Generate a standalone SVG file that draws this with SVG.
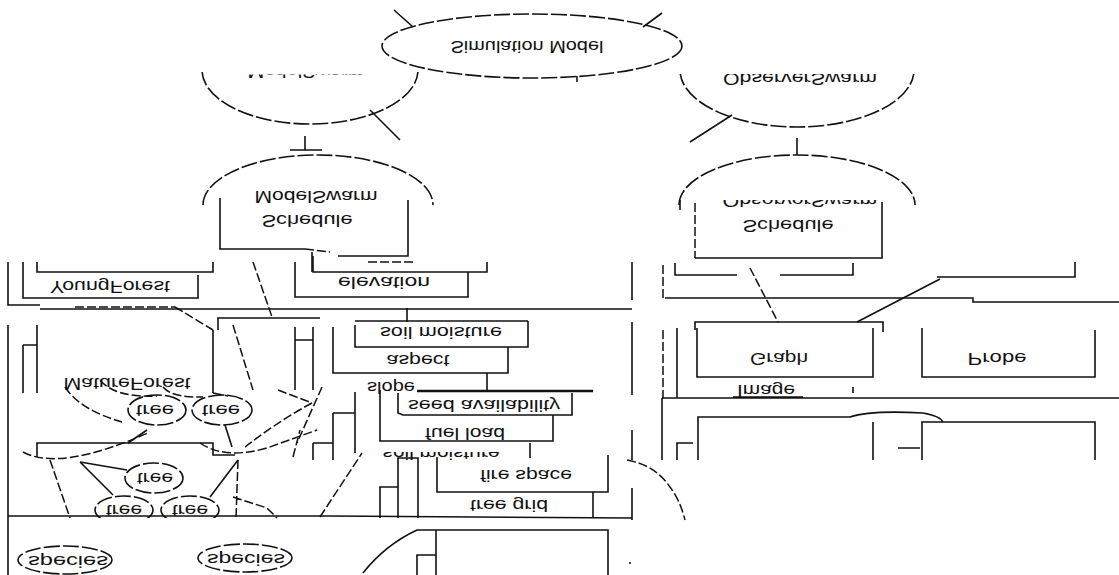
<svg xmlns="http://www.w3.org/2000/svg" width="1119" height="575" viewBox="0 0 1119 575">
<style>
.ln{fill:none;stroke:#111;stroke-width:1.6}
.ds{fill:none;stroke:#111;stroke-width:1.5;stroke-dasharray:9 3}
.el{fill:none;stroke:#111;stroke-width:1.6;stroke-dasharray:16 3}
.lbl{font-family:"Liberation Sans",Arial,sans-serif;font-size:17px;fill:#111;text-anchor:middle;dominant-baseline:central}
</style>
<defs>
<clipPath id="cMS"><rect x="0" y="72" width="1119" height="503"/></clipPath>
<clipPath id="cMSt"><rect x="0" y="74.5" width="1119" height="500"/></clipPath>
<clipPath id="cOS"><rect x="0" y="74" width="1119" height="501"/></clipPath>
<clipPath id="cOSt"><rect x="0" y="75" width="1119" height="500"/></clipPath>
<clipPath id="cSch"><rect x="0" y="140" width="1119" height="65"/></clipPath>
<clipPath id="cOSS"><rect x="0" y="200" width="1119" height="375"/></clipPath>
<clipPath id="cLow"><rect x="0" y="452" width="1119" height="123"/></clipPath>
<clipPath id="cTree"><rect x="0" y="440" width="1119" height="78"/></clipPath>
</defs>
<rect width="1119" height="575" fill="#fff"/>

<g id="connectors">
<path class="ln" d="M394,10 L413,27 M662,13 L643,27 M370,110 L400,140 M305,136 L305,150 M290,150 L322,150 M732,115 L690,142 M797,138 L797,155"/>
<path class="ln" d="M577,76 L577,82"/>
<path class="ln" d="M220,198 L220,249 L305,249 M338,256 L408,256 L408,200 M312,252 L312,272"/>
<path class="ds" d="M305,249 L330,252"/>
<path class="ds" d="M695,203 L695,258"/>
<path class="ln" d="M695,258 L882,258 L882,202 M680,200 L680,210"/>
<path class="ln" d="M675,263 L675,275 L737,275 M780,275 L853,275 L853,263"/>
<path class="ds" d="M663,265 L663,298 M750,268 L778,322"/>
<path class="ln" d="M857,322 L940,279 M937,277 L1075,277 L1075,262"/>
<path class="ln" d="M665,298 L973,298 L973,302 L1119,302"/>
<path class="ln" d="M695,330 L695,322 L883,322 L883,332"/>
<path class="ds" d="M663,330 L663,398"/>
<path class="ln" d="M677,328 L677,398 M662,398 L1119,398 M662,398 L662,460 M733,397 L803,397"/>
<path class="ln" d="M853,387 L853,393"/>
<path class="ln" d="M698,460 L698,417 L850,417 Q870,410 923,413 Q940,416 943,422 M873,422 L873,460 M922,460 L922,422 L1095,422 L1095,460 M677,460 L677,443 L693,443 M898,448 L920,448"/>
<path class="ln" d="M8,262 L8,305 L40,305 M23,262 L23,298 L198,298 L198,275 M37,262 L37,272 L213,272 L213,262"/>
<path class="ds" d="M75,307 L175,307"/>
<path class="ln" d="M40,309 L632,309 M632,262 L632,300"/>
<path class="ds" d="M175,307 L213,330 M253,262 L272,317 M233,325 L253,390 M368,262 L415,262"/>
<path class="ln" d="M320,318 L218,318 L218,330 M213,330 L213,393"/>
<path class="ln" d="M295,262 L295,297 L468,297 L468,272 M313,256 L313,272 L487,272 L487,262"/>
<path class="ln" d="M8,325 L8,575 M37,325 L37,393 M23,345 L23,393 M23,345 L37,345"/>
<path class="ln" d="M295,327 L295,390 M313,327 L313,390 M295,340 L313,340"/>
<path class="ln" d="M407,308 L407,322 M487,373 L487,392"/>
<path class="ln" d="M417,391 L593,391" style="stroke-width:2.6"/>
<path class="ln" d="M355,392 L355,453 M333,413 L355,413 M333,413 L333,460 M313,443 L333,443 M313,443 L313,460"/>
<path class="ln" d="M632,322 L632,395"/>
<path class="ds" d="M65,387 Q80,410 122,422 M100,380 Q115,398 157,396 M163,387 Q172,398 203,397 M213,393 L228,396"/>
<path class="ln" d="M147,430 L128,443 M225,425 L232,447"/>
<path class="ds" d="M278,390 L312,403 M322,387 L297,443 M312,403 Q280,420 245,447"/>
<path class="ln" d="M37,457 L37,443 L213,443 L213,455 L235,455"/>
<path class="ds" d="M23,452 Q60,472 150,432 M200,443 Q225,460 267,448 L317,430 M50,460 L70,518 M238,460 L236,518 M233,497 L267,508 L277,518 M293,457 L300,430 M320,517 L362,453"/>
<path class="ln" d="M80,462 L113,495 M80,462 L127,470 M238,460 L210,497"/>
<path class="ln" d="M8,516 L330,516 L632,518"/>
<path class="ln" d="M380,518 L380,487 L398,487 M398,518 L398,458 L418,458 L418,518"/>
<path class="ln" d="M530,443 L530,458"/>
<path class="ln" d="M632,430 L632,460 M632,488 L632,520"/>
<path class="ds" d="M627,460 Q655,465 670,487 Q680,500 685,520"/>
<path class="ln" d="M363,573 Q385,545 417,530 L608,530 L608,575 M436,530 L436,575 M417,575 L417,555 L436,555"/>
<circle cx="630" cy="563" r="1" fill="#111"/>
</g>

<g id="node-simulation-model">
<ellipse class="el" cx="532" cy="46" rx="150" ry="32" fill="#fff"/>
<text class="lbl" transform="translate(527,46) scale(1,-1)" textLength="153" lengthAdjust="spacingAndGlyphs">Simulation Model</text>
</g>

<g id="node-model-swarm" clip-path="url(#cMS)">
<path class="el" d="M202,70 A108,54 0 0 0 418,70"/>
<g clip-path="url(#cMSt)">
<text class="lbl" transform="translate(306,71.7) scale(1,-1)" textLength="117" lengthAdjust="spacingAndGlyphs">ModelSwarm</text>
</g>
</g>

<g id="node-observer-swarm" clip-path="url(#cOS)">
<path class="el" d="M680,70 A117,57 0 0 0 914,70"/>
<text class="lbl" transform="translate(800,78.7) scale(1,-1)" textLength="154" lengthAdjust="spacingAndGlyphs">ObserverSwarm</text>
</g>

<g id="node-model-schedule">
<path class="el" d="M203,205 A115,50 0 0 1 433,205" clip-path="url(#cSch)"/>
<text class="lbl" transform="translate(316,196) scale(1,-1)" textLength="123" lengthAdjust="spacingAndGlyphs">ModelSwarm</text>
<text class="lbl" transform="translate(307,220) scale(1,-1)" textLength="91" lengthAdjust="spacingAndGlyphs">Schedule</text>
</g>

<g id="node-observer-schedule">
<path class="el" d="M679,205 A118,50 0 0 1 915,205" clip-path="url(#cSch)"/>
<g clip-path="url(#cOSS)">
<text class="lbl" transform="translate(800,200.7) scale(1,-1)" textLength="155" lengthAdjust="spacingAndGlyphs">ObserverSwarm</text>
</g>
<text class="lbl" transform="translate(788,225) scale(1,-1)" textLength="91" lengthAdjust="spacingAndGlyphs">Schedule</text>
</g>

<g id="node-young-forest">
<text class="lbl" transform="translate(110,286) scale(1,-1)" textLength="120" lengthAdjust="spacingAndGlyphs">YoungForest</text>
</g>

<g id="node-elevation">
<text class="lbl" transform="translate(384,282) scale(1,-1)" textLength="92" lengthAdjust="spacingAndGlyphs">elevation</text>
</g>

<g id="node-soil-moisture">
<path class="ln" d="M355,321 L528,321 M355,325 L355,347 L528,347 L528,321"/>
<text class="lbl" transform="translate(441,332) scale(1,-1)" textLength="122" lengthAdjust="spacingAndGlyphs">soil moisture</text>
</g>

<g id="node-aspect">
<path class="ln" d="M333,327 L333,373 L508,373 L508,347"/>
<text class="lbl" transform="translate(418,360) scale(1,-1)" textLength="63" lengthAdjust="spacingAndGlyphs">aspect</text>
</g>

<g id="node-slope">
<text class="lbl" transform="translate(391,387) scale(1,-1)" textLength="48" lengthAdjust="spacingAndGlyphs">slope</text>
</g>

<g id="node-seed-availability">
<path class="ln" d="M398,393 L398,413 L403,415 L572,415 L572,393"/>
<text class="lbl" transform="translate(484,405) scale(1,-1)" textLength="152" lengthAdjust="spacingAndGlyphs">seed availability</text>
</g>

<g id="node-fuel-load">
<path class="ln" d="M380,390 L380,441 L553,441 L553,415"/>
<text class="lbl" transform="translate(465,433) scale(1,-1)" textLength="80" lengthAdjust="spacingAndGlyphs">fuel load</text>
</g>

<g id="node-soil-moisture-2" clip-path="url(#cLow)">
<text class="lbl" transform="translate(441,453.7) scale(1,-1)" textLength="117" lengthAdjust="spacingAndGlyphs">soil moisture</text>
</g>

<g id="node-fire-space">
<path class="ln" d="M437,457 L437,492 L608,492 L608,455"/>
<text class="lbl" transform="translate(526,475) scale(1,-1)" textLength="92" lengthAdjust="spacingAndGlyphs">fire space</text>
</g>

<g id="node-tree-grid">
<path class="ln" d="M593,492 L593,518"/>
<text class="lbl" transform="translate(509,505) scale(1,-1)" textLength="78" lengthAdjust="spacingAndGlyphs">tree grid</text>
</g>

<g id="node-mature-forest">
<text class="lbl" transform="translate(127,383) scale(1,-1)" textLength="127" lengthAdjust="spacingAndGlyphs">MatureForest</text>
</g>

<g id="node-tree-1">
<ellipse class="el" cx="157" cy="410" rx="29" ry="15"/>
<text class="lbl" transform="translate(155,410) scale(1,-1)" textLength="38" lengthAdjust="spacingAndGlyphs">tree</text>
</g>
<g id="node-tree-2">
<ellipse class="el" cx="222" cy="410" rx="30" ry="15"/>
<text class="lbl" transform="translate(221,410) scale(1,-1)" textLength="38" lengthAdjust="spacingAndGlyphs">tree</text>
</g>
<g id="node-tree-3">
<ellipse class="el" cx="154" cy="478" rx="29" ry="15"/>
<text class="lbl" transform="translate(155,478) scale(1,-1)" textLength="36" lengthAdjust="spacingAndGlyphs">tree</text>
</g>
<g id="node-tree-4" clip-path="url(#cTree)">
<ellipse class="el" cx="124" cy="510" rx="29" ry="14"/>
<text class="lbl" transform="translate(124,510) scale(1,-1)" textLength="36" lengthAdjust="spacingAndGlyphs">tree</text>
</g>
<g id="node-tree-5" clip-path="url(#cTree)">
<ellipse class="el" cx="190" cy="510" rx="29" ry="14"/>
<text class="lbl" transform="translate(190,510) scale(1,-1)" textLength="36" lengthAdjust="spacingAndGlyphs">tree</text>
</g>

<g id="node-species-1">
<ellipse class="el" cx="65" cy="560" rx="47" ry="14"/>
<text class="lbl" transform="translate(68,561) scale(1,-1)" textLength="80" lengthAdjust="spacingAndGlyphs">species</text>
</g>
<g id="node-species-2">
<ellipse class="el" cx="245" cy="558" rx="47" ry="14"/>
<text class="lbl" transform="translate(246,559) scale(1,-1)" textLength="78" lengthAdjust="spacingAndGlyphs">species</text>
</g>

<g id="node-graph">
<path class="ln" d="M697,328 L697,377 L873,377 L873,328"/>
<text class="lbl" transform="translate(779,358) scale(1,-1)" textLength="58" lengthAdjust="spacingAndGlyphs">Graph</text>
</g>
<g id="node-probe">
<path class="ln" d="M922,328 L922,377 L1095,377 L1095,330"/>
<text class="lbl" transform="translate(997,358) scale(1,-1)" textLength="59" lengthAdjust="spacingAndGlyphs">Probe</text>
</g>
<g id="node-image">
<text class="lbl" transform="translate(766,390) scale(1,-1)" textLength="58" lengthAdjust="spacingAndGlyphs">Image</text>
</g>
</svg>
